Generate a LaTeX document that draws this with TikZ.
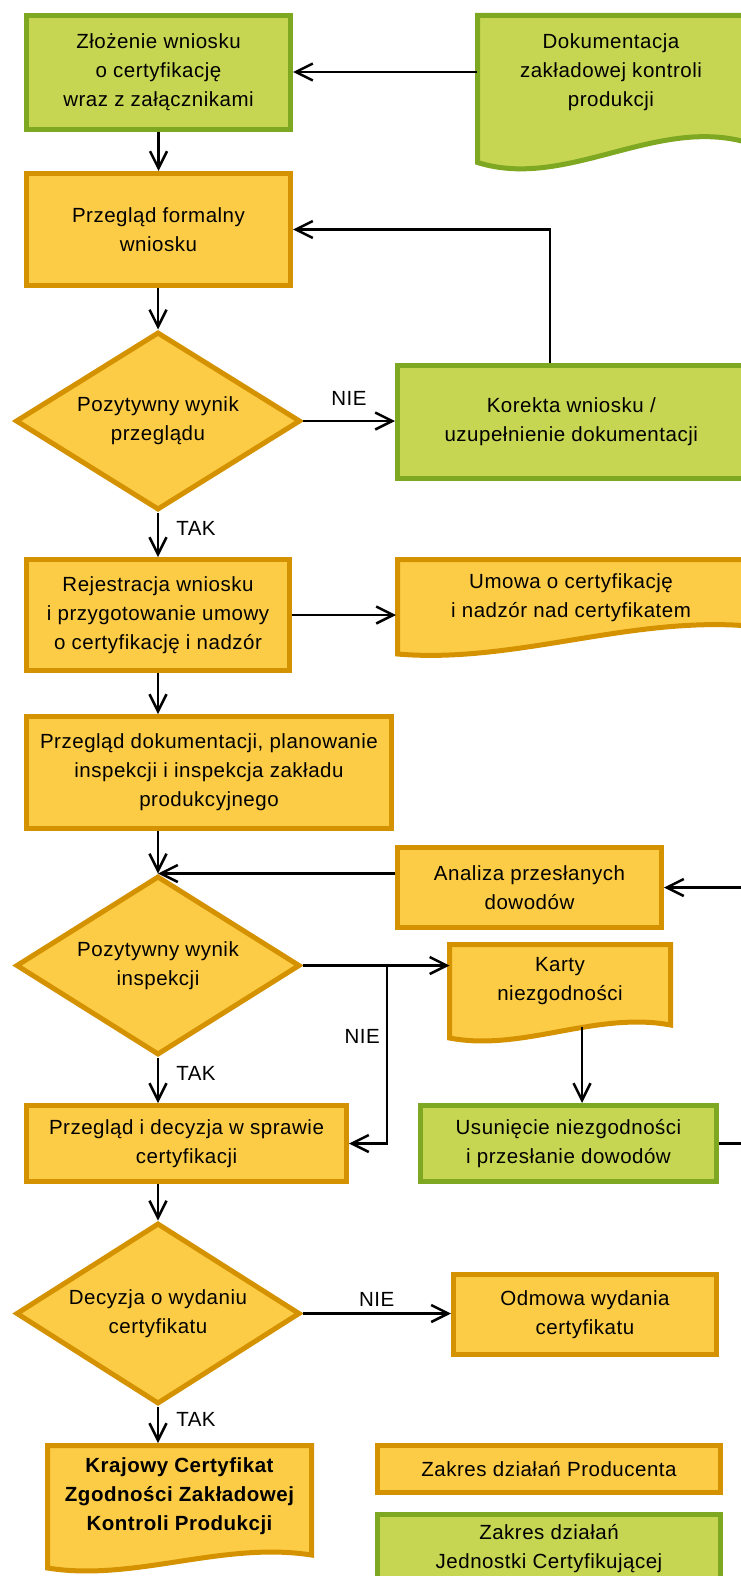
\documentclass[tikz,border=0pt]{standalone}
\usepackage{fontspec}
\setmainfont{Liberation Sans}[LetterSpace=2.5]
\usepackage{tikz}
\usetikzlibrary{arrows.meta, shapes.geometric}

\definecolor{ofill}{RGB}{253,204,71}
\definecolor{oline}{RGB}{212,146,0}
\definecolor{gfill}{RGB}{198,214,82}
\definecolor{gline}{RGB}{127,168,34}

\newcommand{\flowfont}{\fontsize{20.5}{29}\selectfont}
% document shape: style, x left, y top, x right, y bottom left, y bottom right, wave
\newcommand{\docshape}[7]{%
  \draw[#1] (#2,#3) -- (#4,#3) -- (#4,#6)
    .. controls ({#2+0.66*(#4-#2)},{#6-#7}) and ({#2+0.33*(#4-#2)},{#5+#7}) .. (#2,#5) -- cycle;}

\tikzset{
  base/.style={font=\flowfont, align=center, line width=5pt, inner sep=0pt},
  prodbox/.style={base, rectangle, draw=oline, fill=ofill},
  certbox/.style={base, rectangle, draw=gline, fill=gfill},
  decision/.style={base, diamond, aspect=1.6, draw=oline, fill=ofill},
  doctext/.style={base, rectangle, draw=none, outer sep=0pt},
  proddoc/.style={line width=5pt, draw=oline, fill=ofill},
  certdoc/.style={line width=5pt, draw=gline, fill=gfill},
  arr/.style={line width=2.5pt, -{Straight Barb[length=17pt,width=17pt]}},
  yesno/.style={font=\flowfont, inner sep=0pt}
}

\begin{document}
\begin{tikzpicture}[x=1pt, y=-1pt]
  \useasboundingbox (0,0) rectangle (741,1576);
  \clip (0,0) rectangle (741,1576);

  % document shapes
  \docshape{certdoc}{477.5}{15.5}{749}{162.5}{143}{28}
  \docshape{proddoc}{397.5}{559.5}{749}{654}{626}{10}
  \docshape{proddoc}{449.5}{944.5}{670.5}{1038}{1025}{14}
  \docshape{proddoc}{47.5}{1445.5}{311.5}{1568}{1555}{14}

  \node[certbox, minimum width=264pt, minimum height=114pt] (zloz) at (158.5,72.5) {Złożenie wniosku\\o certyfikację\\wraz z załącznikami};
  \node[doctext, minimum width=268pt, minimum height=118pt] (dok) at (611,72) {Dokumentacja\\zakładowej kontroli\\produkcji};
  \node[prodbox, minimum width=264pt, minimum height=112pt] (przeg) at (158.5,229.5) {Przegląd formalny\\wniosku};
  \node[decision, minimum width=285pt, minimum height=178pt] (d1) at (158,421) {Pozytywny wynik\\przeglądu};
  \node[certbox, minimum width=347.5pt, minimum height=113pt] (kor) at (571.25,422) {Korekta wniosku /\\uzupełnienie dokumentacji};
  \node[prodbox, minimum width=263pt, minimum height=111pt] (rej) at (158,615) {Rejestracja wniosku\\i przygotowanie umowy\\o certyfikację i nadzór};
  \node[doctext, minimum width=350pt, minimum height=82pt] (umowa) at (571,598) {Umowa o certyfikację\\i nadzór nad certyfikatem};
  \node[prodbox, minimum width=365pt, minimum height=112pt] (pdok) at (209,772.5) {Przegląd dokumentacji, planowanie\\inspekcji i inspekcja zakładu\\produkcyjnego};
  \node[prodbox, minimum width=264pt, minimum height=80pt] (anal) at (529.5,887.5) {Analiza przesłanych\\dowodów};
  \node[decision, minimum width=284pt, minimum height=179pt] (d2) at (158,965.5) {Pozytywny wynik\\inspekcji};
  \node[doctext, minimum width=221pt, minimum height=92pt] (karty) at (560,981) {Karty\\niezgodności};
  \node[certbox, minimum width=296pt, minimum height=76pt] (usun) at (568.5,1143.5) {Usunięcie niezgodności\\i przesłanie dowodów};
  \node[prodbox, minimum width=320pt, minimum height=76pt] (pdec) at (186.5,1143.5) {Przegląd i decyzja w sprawie\\certyfikacji};
  \node[decision, minimum width=284pt, minimum height=181pt] (d3) at (158,1313.5) {Decyzja o wydaniu\\certyfikatu};
  \node[prodbox, minimum width=263pt, minimum height=80pt] (odm) at (585,1314.5) {Odmowa wydania\\certyfikatu};
  \node[doctext, font=\flowfont\bfseries, minimum width=264pt, minimum height=106pt] (kraj) at (179.5,1496) {Krajowy Certyfikat\\Zgodności Zakładowej\\Kontroli Produkcji};
  \node[prodbox, minimum width=343pt, minimum height=47pt] (lprod) at (549,1469) {Zakres działań Producenta};
  \node[certbox, minimum width=343pt, minimum height=68pt] (ljc) at (549,1548.5) {Zakres działań\\Jednostki Certyfikującej};

  \coordinate (split) at (387,0);
  \coordinate (back) at (790,0);

  \draw[arr] (dok.west) -- (dok.west -| zloz.east);
  \draw[arr] (zloz.south) -- (przeg.north);
  \draw[arr] (przeg.south -| d1.north) -- (d1.north);
  \draw[arr] (d1.east) -- node[yesno, above=14pt]{NIE} (d1.east -| kor.west);
  \draw[arr] ([xshift=-21.25pt]kor.north) |- (przeg.east);
  \draw[arr] (d1.south) -- node[yesno, right=17pt, pos=0.35]{TAK} (d1.south |- rej.north);
  \draw[arr] (rej.east) -- (rej.east -| umowa.west);
  \draw[arr] (rej.south) -- (rej.south |- pdok.north);
  \draw[arr] (pdok.south -| d2.north) -- (d2.north);
  \draw[arr] (anal.west |- d2.north) -- (d2.north);
  \draw[arr] (d2.east) -- (d2.east -| karty.west);
  \draw[arr] (split |- d2.east) |- node[yesno, left=6pt, pos=0.2]{NIE} (pdec.east);
  \draw[arr] (d2.south) -- node[yesno, right=17pt, pos=0.35]{TAK} (d2.south |- pdec.north);
  \draw[arr] ([xshift=13.5pt]usun.north |- karty.south) -- ([xshift=13.5pt]usun.north);
  \draw[arr] (usun.east) -- (usun.east -| back) |- (anal.east);
  \draw[arr] (pdec.south -| d3.north) -- (d3.north);
  \draw[arr] (d3.east) -- node[yesno, above=6pt]{NIE} (d3.east -| odm.west);
  \draw[arr] (d3.south) -- node[yesno, right=17pt, pos=0.35]{TAK} (d3.south |- kraj.north);
\end{tikzpicture}
\end{document}
